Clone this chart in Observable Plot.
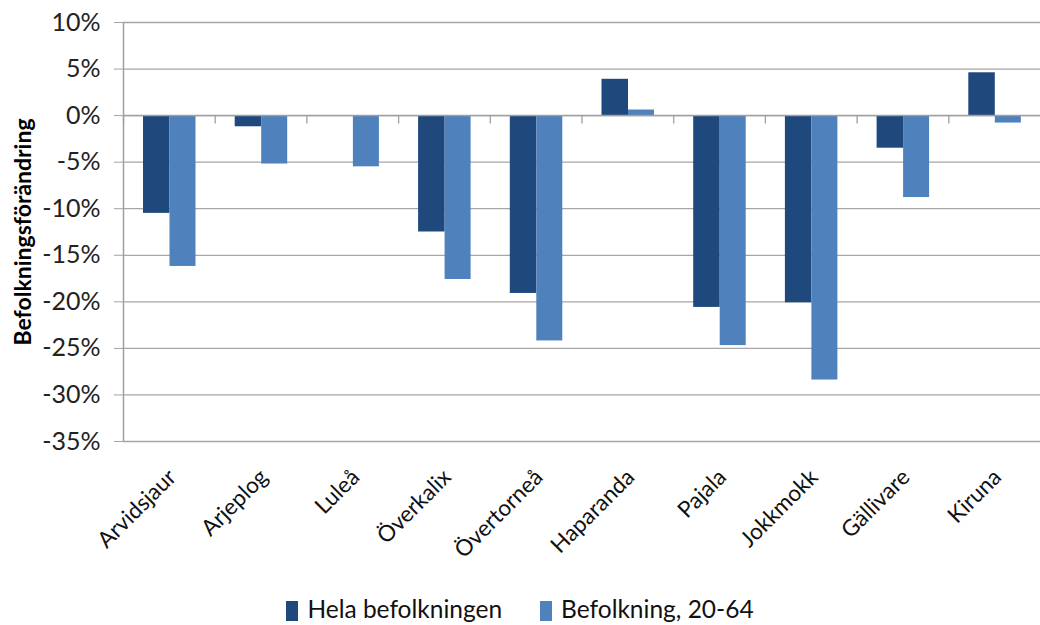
<!DOCTYPE html>
<html>
<head>
<meta charset="utf-8">
<script src="https://cdn.jsdelivr.net/npm/d3@7"></script>
<script src="https://cdn.jsdelivr.net/npm/@observablehq/plot@0.6"></script>
<style>
  body { margin: 0; background: #fff; font-family: Lato, "Open Sans", sans-serif; }
  #chart { width: 1040px; }
  .legend { display: flex; justify-content: center; align-items: center; gap: 38px; height: 50px; font-size: 24.5px; color: #111; padding-left: 0px; }
  .legend span.sw { display: inline-block; width: 12px; height: 20px; margin-right: 9px; vertical-align: -3px; }
</style>
</head>
<body>
<div id="chart"></div>
<script>
const categories = ["Arvidsjaur", "Arjeplog", "Luleå", "Överkalix", "Övertorneå", "Haparanda", "Pajala", "Jokkmokk", "Gällivare", "Kiruna"];
const seriesNames = ["Hela befolkningen", "Befolkning, 20-64"];
const hela = [-10.5, -1.2, 0, -12.5, -19.1, 3.9, -20.6, -20.1, -3.5, 4.6];
const arbetsfor = [-16.2, -5.2, -5.5, -17.6, -24.2, 0.6, -24.7, -28.4, -8.8, -0.8];
const yTicks = [10, 5, 0, -5, -10, -15, -20, -25, -30, -35];
const colors = ["#1f497d", "#4f81bd"];

const dataHela = categories.map((c, i) => ({category: c, value: hela[i] / 100}));
const dataArb = categories.map((c, i) => ({category: c, value: arbetsfor[i] / 100}));

const W = 1040, H = 583, mL = 123, mR = 0, mT = 22, mB = 142;
const bw = (W - mL - mR) / categories.length;

const chart = Plot.plot({
  width: W,
  height: H,
  marginLeft: mL,
  marginRight: mR,
  marginTop: mT,
  marginBottom: mB,
  style: {fontFamily: "Lato, 'Open Sans', sans-serif", background: "#fff"},
  x: {type: "band", domain: categories, padding: 0, round: false, label: null},
  y: {domain: [-0.35, 0.10], label: null},
  marks: [
    Plot.ruleY(yTicks.map(d => d / 100), {stroke: "#a6a6a6", strokeWidth: 1.3}),
    Plot.barY(dataHela, {x: "category", y: "value", fill: colors[0], insetLeft: 20, insetRight: bw - 46.5}),
    Plot.barY(dataArb, {x: "category", y: "value", fill: colors[1], insetLeft: 46.5, insetRight: bw - 72.5}),
    Plot.ruleY([0], {stroke: "#a0a0a0", strokeWidth: 1.5}),
    Plot.ruleX(categories, {x: d => d, dx: -bw / 2, y1: 0, y2: -0.009, stroke: "#a0a0a0", strokeWidth: 1.3}),
    Plot.ruleX([0], {x: () => categories[0], dx: -bw / 2, y1: -0.35, y2: 0.10, stroke: "#a0a0a0", strokeWidth: 1.5}),
    Plot.axisY({
      ticks: yTicks.map(d => d / 100),
      tickFormat: d => Math.round(d * 100) + "%",
      tickSize: 9,
      tickPadding: 14,
      stroke: "#a0a0a0",
      fontSize: 25,
      fill: "#222",
      label: null
    }),
    Plot.axisX({
      tickSize: 0,
      tickRotate: -45,
      tickPadding: 32,
      fontSize: 22.5,
      fill: "#111",
      label: null,
      dx: 3
    }),
    Plot.text(["Befolkningsförändring"], {
      frameAnchor: "left",
      dx: -100,
      rotate: -90,
      textAnchor: "middle",
      fontSize: 23,
      fontWeight: "bold",
      fill: "#000"
    })
  ]
});
document.getElementById("chart").appendChild(chart);

const legend = document.createElement("div");
legend.className = "legend";
seriesNames.forEach((name, i) => {
  const item = document.createElement("div");
  const sw = document.createElement("span");
  sw.className = "sw";
  sw.style.background = colors[i];
  item.appendChild(sw);
  item.appendChild(document.createTextNode(name));
  legend.appendChild(item);
});
document.body.appendChild(legend);
</script>
</body>
</html>
